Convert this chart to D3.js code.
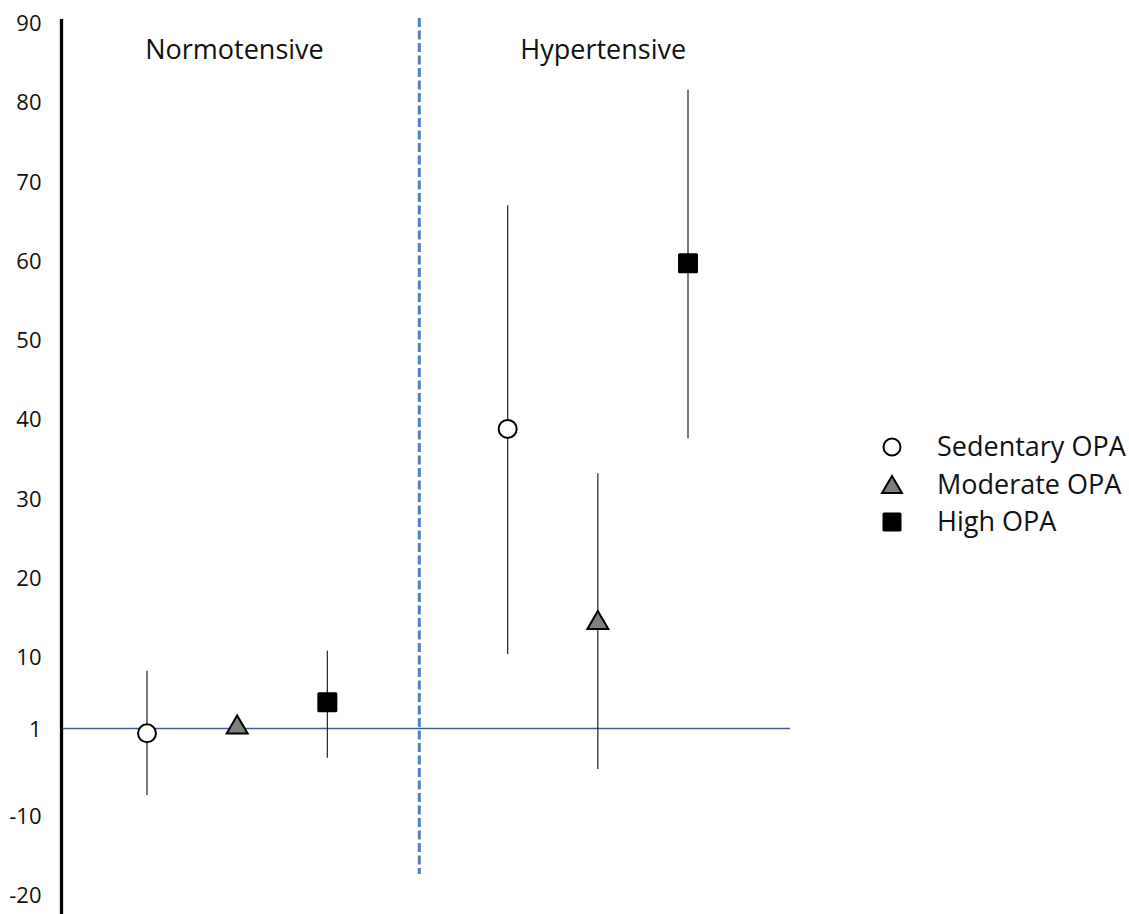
<!DOCTYPE html>
<html>
<head>
<meta charset="utf-8">
<script src="https://cdn.jsdelivr.net/npm/d3@7"></script>
<style>
  html, body { margin: 0; padding: 0; background: #fff; }
  svg { display: block; }
  text { font-family: "Open Sans", "Liberation Sans", sans-serif; fill: #111; }
</style>
</head>
<body>
<svg id="chart" width="1129" height="914"></svg>
<script>
// ---- data ----
const groups = ["Normotensive", "Hypertensive"];
const levels = ["Sedentary OPA", "Moderate OPA", "High OPA"];
const normEst   = [0.4, 1.5, 4.3];
const normLower = [-7.4, null, -2.7];
const normUpper = [8.3, null, 10.8];
const hypEst    = [38.8, 14.7, 59.7];
const hypLower  = [10.4, -4.1, 37.6];
const hypUpper  = [67.0, 33.2, 81.6];
const yTicks = [90, 80, 70, 60, 50, 40, 30, 20, 10, 1, -10, -20];
const refValue = 1;

// ---- layout ----
const svg = d3.select("#chart");
const axisX = 61.5;
const y = d3.scaleLinear().domain([-20, 90]).range([895, 23]);
const x = d3.scaleLinear().domain([0, 6]).range([147, 688]);

const points = [];
[ [normEst, normLower, normUpper], [hypEst, hypLower, hypUpper] ].forEach((arr, g) => {
  levels.forEach((lv, i) => {
    points.push({ group: groups[g], level: lv, li: i, pos: g * 4 + i,
      est: arr[0][i], lo: arr[1][i], hi: arr[2][i] });
  });
});

// y axis (labels only) + thick line
const axisG = svg.append("g").attr("transform", `translate(${axisX},0)`)
  .call(d3.axisLeft(y).tickValues(yTicks).tickFormat(d => String(d)).tickSize(0).tickPadding(20));
axisG.select(".domain").remove();
axisG.selectAll("text")
  .style("font-family", '"Open Sans", "Liberation Sans", sans-serif')
  .style("font-size", "22px").attr("fill", "#111").attr("dy", "0.34em");
svg.append("line").attr("x1", axisX).attr("x2", axisX).attr("y1", 19).attr("y2", 914)
  .attr("stroke", "#000").attr("stroke-width", 3.3);

// reference line at 1
svg.append("line")
  .attr("x1", axisX + 1).attr("x2", 790)
  .attr("y1", y(refValue)).attr("y2", y(refValue))
  .attr("stroke", "#3a5f98").attr("stroke-width", 1.4);

// dashed divider
svg.append("line")
  .attr("x1", x(3.02)).attr("x2", x(3.02)).attr("y1", 18).attr("y2", 874)
  .attr("stroke", "#4f81bd").attr("stroke-width", 3)
  .attr("stroke-dasharray", "9,3.5");

// group titles
svg.append("text").attr("x", x(0.97)).attr("y", 59).attr("text-anchor", "middle")
  .style("font-size", "27px").text(groups[0]);
svg.append("text").attr("x", x(5.06)).attr("y", 59).attr("text-anchor", "middle")
  .style("font-size", "27px").text(groups[1]);

// error bars
svg.append("g").selectAll("line").data(points.filter(d => d.lo != null)).join("line")
  .attr("x1", d => x(d.pos)).attr("x2", d => x(d.pos))
  .attr("y1", d => y(d.hi)).attr("y2", d => y(d.lo))
  .attr("stroke", "#222").attr("stroke-width", 1.2);

// markers
function drawMarker(sel, li, size) {
  if (li === 0) {
    sel.append("circle").attr("r", size / 2 - 1).attr("fill", "#fff")
      .attr("stroke", "#000").attr("stroke-width", 2);
  } else if (li === 1) {
    const w = size * 1.05, h = size * 0.9;
    sel.append("path")
      .attr("d", `M0,${-h/2}L${w/2},${h/2}L${-w/2},${h/2}Z`)
      .attr("fill", "#7f7f7f").attr("stroke", "#000").attr("stroke-width", 2)
      .attr("stroke-linejoin", "miter");
  } else {
    sel.append("rect").attr("x", -size / 2).attr("y", -size / 2)
      .attr("width", size).attr("height", size).attr("rx", 1.5).attr("fill", "#000");
  }
}
points.forEach(d => {
  const g = svg.append("g").attr("transform", `translate(${x(d.pos)},${y(d.est)})`);
  drawMarker(g, d.li, 20);
});

// legend
const legend = svg.append("g");
levels.forEach((lv, i) => {
  const cy = 447 + i * 37.5;
  const g = legend.append("g").attr("transform", `translate(892,${cy})`);
  drawMarker(g, i, 19);
  legend.append("text").attr("x", 937).attr("y", cy).attr("dy", "0.35em")
    .style("font-size", "27px").text(lv);
});
</script>
</body>
</html>
